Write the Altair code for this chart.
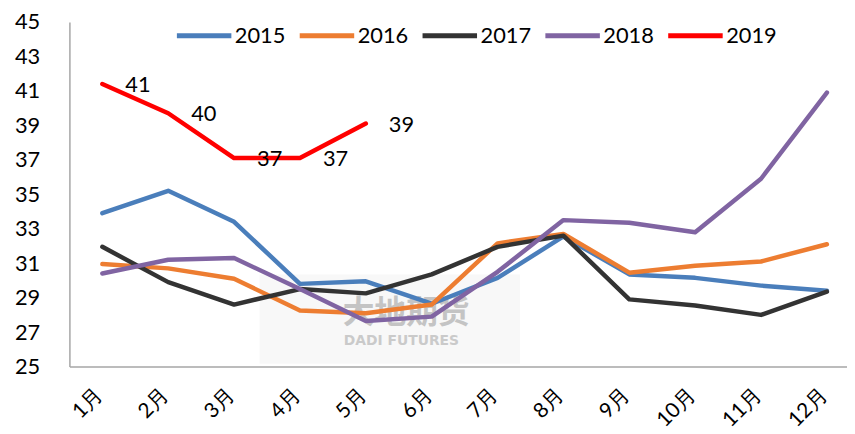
import altair as alt
import pandas as pd

months = ["1月", "2月", "3月", "4月", "5月", "6月", "7月", "8月", "9月", "10月", "11月", "12月"]
years = ["2015", "2016", "2017", "2018", "2019"]
colors = ["#4A7EBB", "#ED7D31", "#333333", "#8064A2", "#FF0000"]

v2015 = [33.9, 35.2, 33.4, 29.8, 29.95, 28.65, 30.15, 32.55, 30.35, 30.15, 29.7, 29.4]
v2016 = [30.95, 30.7, 30.1, 28.25, 28.1, 28.6, 32.15, 32.7, 30.45, 30.85, 31.1, 32.1]
v2017 = [31.95, 29.9, 28.6, 29.5, 29.25, 30.35, 31.95, 32.6, 28.9, 28.55, 28.0, 29.35]
v2018 = [30.4, 31.2, 31.3, 29.5, 27.65, 27.9, 30.5, 33.5, 33.35, 32.8, 35.9, 40.9]
v2019 = [41.4, 39.7, 37.1, 37.1, 39.1]

y_ticks = [25, 27, 29, 31, 33, 35, 37, 39, 41, 43, 45]

series = [v2015, v2016, v2017, v2018, v2019]
rows = []
for yr, vals in zip(years, series):
    for i, v in enumerate(vals):
        rows.append({"month": months[i], "year": yr, "value": v, "order": i})
df = pd.DataFrame(rows)
df19 = df[df["year"] == "2019"].copy()
df19["label"] = [f"{v:.0f}" for v in df19["value"]]

FONT = "Lato"

xenc = alt.X("month:N", sort=months,
             scale=alt.Scale(type="point", padding=0.4025, align=0.621),
             axis=alt.Axis(title=None, labelAngle=-45, labelAlign="right", labelBaseline="middle",
                           labelFontSize=21, labelPadding=25, labelOffset=-3, ticks=False,
                           domainColor="#A6A6A6", domainWidth=1.5, grid=False, labelColor="#000000",
                           labelFont=FONT, labelOverlap=False))
yenc = alt.Y("value:Q", scale=alt.Scale(domain=[25, 45], nice=False, zero=False),
             axis=alt.Axis(title=None, values=y_ticks, ticks=False, grid=False, labelFontSize=22,
                           labelPadding=30, domainColor="#A6A6A6", domainWidth=1.5,
                           labelColor="#000000", labelFont=FONT, labelOverlap=False))

one = pd.DataFrame({"a": [0]})
wm_rect = alt.Chart(one).mark_rect(fill="#F8F8F8").encode(
    x=alt.value(192), x2=alt.value(455), y=alt.value(255), y2=alt.value(345))
wm_cn = alt.Chart(one).mark_text(font="Noto Sans CJK SC", fontSize=32, fontWeight="bold",
                                 color="#C4C4C4", align="left", baseline="middle").encode(
    x=alt.value(276), y=alt.value(294), text=alt.value("大地期货"))
wm_en = alt.Chart(one).mark_text(font="DejaVu Sans", fontSize=14, fontWeight="bold",
                                 color="#CACACA", align="left", baseline="middle").encode(
    x=alt.value(277), y=alt.value(322), text=alt.value("DADI FUTURES"))

lines = alt.Chart(df).mark_line(strokeWidth=4.5, strokeCap="round", strokeJoin="round").encode(
    x=xenc, y=yenc,
    color=alt.Color("year:N", sort=years, scale=alt.Scale(domain=years, range=colors),
                    legend=alt.Legend(title=None, orient="none", legendX=106, legendY=-16,
                                      direction="horizontal", symbolType="stroke",
                                      symbolSize=3025, symbolStrokeWidth=5,
                                      labelFontSize=22, labelFont=FONT, labelOffset=1,
                                      columnPadding=3, padding=0, labelColor="#000000")),
    order="order:Q")

labels = alt.Chart(df19).mark_text(fontSize=22, font=FONT, dx=36, dy=1, color="#000000",
                                   align="center", baseline="middle").encode(
    x=xenc, y=yenc, text="label:N")

chart = alt.layer(wm_rect, wm_cn, wm_en, lines, labels).properties(
    width=785, height=348, autosize="none",
    padding={"left": 62, "top": 12, "right": 0, "bottom": 66}
).configure_view(stroke=None).configure_axis(labelOverlap=False)

chart.save("out.html", embed_options={"renderer": "svg", "actions": False})
